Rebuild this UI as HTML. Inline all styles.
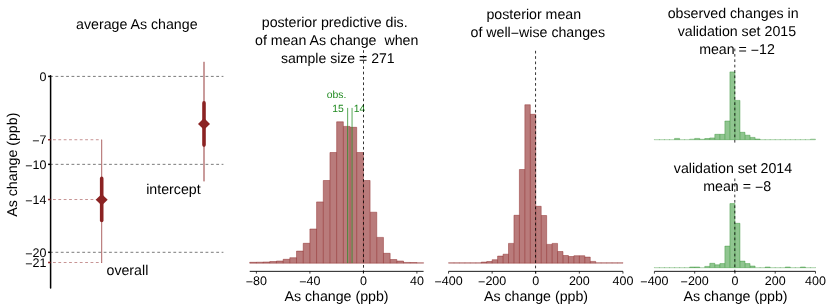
<!DOCTYPE html>
<html><head><meta charset="utf-8"><title>As change</title>
<style>html,body{margin:0;padding:0;background:#fff;}body{width:830px;height:305px;overflow:hidden;font-family:"Liberation Sans",sans-serif;}svg{display:block;text-rendering:geometricPrecision;will-change:transform;opacity:0.999;}</style>
</head><body>
<svg width="830" height="305" viewBox="0 0 830 305" font-family="'Liberation Sans', sans-serif" fill="#000">
<rect width="830" height="305" fill="#fff"/>
<text x="136.8" y="28.5" font-size="14.2" text-anchor="middle">average As change</text>
<text transform="translate(16.85,164.7) rotate(-90)" font-size="14.2" text-anchor="middle">As change (ppb)</text>
<path d="M50.6 76.40H223.4" stroke="#4d4d4d" stroke-opacity="1" stroke-width="0.75" stroke-dasharray="2.8 2.56" stroke-dashoffset="0.51" fill="none"/>
<path d="M50.6 164.35H223.4" stroke="#4d4d4d" stroke-opacity="1" stroke-width="0.75" stroke-dasharray="2.8 2.56" stroke-dashoffset="0.51" fill="none"/>
<path d="M50.6 252.30H223.4" stroke="#4d4d4d" stroke-opacity="1" stroke-width="0.75" stroke-dasharray="2.8 2.56" stroke-dashoffset="0.51" fill="none"/>
<path d="M50.6 139.72H101.7" stroke="#8B2323" stroke-opacity="0.65" stroke-width="0.75" stroke-dasharray="2.8 2.56" stroke-dashoffset="2.96" fill="none"/>
<path d="M50.6 199.53H101.7" stroke="#8B2323" stroke-opacity="0.65" stroke-width="0.75" stroke-dasharray="2.8 2.56" stroke-dashoffset="2.96" fill="none"/>
<path d="M50.6 262.50H101.7" stroke="#8B2323" stroke-opacity="0.65" stroke-width="0.75" stroke-dasharray="2.8 2.56" stroke-dashoffset="2.96" fill="none"/>
<path d="M50.6 75.65V288" stroke="#000" stroke-width="1.5" stroke-linecap="round" fill="none"/>
<path d="M48.1 76.40H50.6" stroke="#000" stroke-width="1.5" fill="none"/>
<text x="46.4" y="80.85" font-size="12.5" text-anchor="end">0</text>
<path d="M48.1 139.72H50.6" stroke="#8B2323" stroke-width="1.5" fill="none"/>
<text x="46.4" y="144.17" font-size="12.5" text-anchor="end"><tspan dy="1.19">−</tspan><tspan dy="-1.19">7</tspan></text>
<path d="M48.1 164.35H50.6" stroke="#000" stroke-width="1.5" fill="none"/>
<text x="46.4" y="168.80" font-size="12.5" text-anchor="end"><tspan dy="1.19">−</tspan><tspan dy="-1.19">10</tspan></text>
<path d="M48.1 199.53H50.6" stroke="#8B2323" stroke-width="1.5" fill="none"/>
<text x="46.4" y="203.98" font-size="12.5" text-anchor="end"><tspan dy="1.19">−</tspan><tspan dy="-1.19">14</tspan></text>
<path d="M48.1 252.30H50.6" stroke="#000" stroke-width="1.5" fill="none"/>
<text x="46.4" y="256.75" font-size="12.5" text-anchor="end"><tspan dy="1.19">−</tspan><tspan dy="-1.19">20</tspan></text>
<path d="M48.1 262.50H50.6" stroke="#8B2323" stroke-width="1.5" fill="none"/>
<text x="46.4" y="266.95" font-size="12.5" text-anchor="end"><tspan dy="1.19">−</tspan><tspan dy="-1.19">21</tspan></text>
<path d="M101.7 139.72V263" stroke="#8B2323" stroke-opacity="0.7" stroke-width="1" fill="none"/>
<path d="M101.7 178.4V220.4" stroke="#8B2323" stroke-width="3.6" stroke-linecap="round" fill="none"/>
<path d="M95.7 199.7L101.7 193.9L107.7 199.7L101.7 205.5Z" fill="#8B2323"/>
<path d="M204 61.8V181.4" stroke="#8B2323" stroke-opacity="0.9" stroke-width="1" fill="none"/>
<path d="M204 102.9V145.1" stroke="#8B2323" stroke-width="3.6" stroke-linecap="round" fill="none"/>
<path d="M198 123.9L204 118.1L210 123.9L204 129.7Z" fill="#8B2323"/>
<text x="146.2" y="194.1" font-size="14.2">intercept</text>
<text x="106.5" y="275" font-size="14.2">overall</text>
<text x="334.7" y="26.9" font-size="14.2" text-anchor="middle">posterior predictive dis.</text>
<text x="336.7" y="44.5" font-size="14.2" text-anchor="middle" style="white-space:pre">of mean As change  when</text>
<text x="337.8" y="62.6" font-size="14.05" text-anchor="middle">sample size = 271</text>
<path d="M249.71 262.30H256.40V263.20H249.71zM256.40 262.20H263.09V263.20H256.40zM263.09 262.00H269.77V263.20H263.09zM269.77 261.50H276.46V263.20H269.77zM276.46 261.00H283.15V263.20H276.46zM283.15 259.30H289.84V263.20H283.15zM289.84 257.70H296.52V263.20H289.84zM296.52 251.10H303.21V263.20H296.52zM303.21 243.30H309.90V263.20H303.21zM309.90 229.00H316.59V263.20H309.90zM316.59 201.90H323.27V263.20H316.59zM323.27 180.50H329.96V263.20H323.27zM329.96 152.50H336.65V263.20H329.96zM336.65 121.80H343.34V263.20H336.65zM343.34 126.40H350.02V263.20H343.34zM350.02 127.30H356.71V263.20H350.02zM356.71 152.50H363.40V263.20H356.71zM363.40 180.50H370.09V263.20H363.40zM370.09 212.20H376.77V263.20H370.09zM376.77 237.40H383.46V263.20H376.77zM383.46 253.30H390.15V263.20H383.46zM390.15 259.50H396.84V263.20H390.15zM396.84 261.00H403.52V263.20H396.84zM403.52 262.45H410.21V263.20H403.52zM410.21 262.50H416.90V263.20H410.21z" fill="#8B2323" fill-opacity="0.6" stroke="none"/><path d="M249.71 263.20H423.59M249.71 263.20V262.30M256.40 263.20V262.20M263.09 263.20V262.00M269.77 263.20V261.50M276.46 263.20V261.00M283.15 263.20V259.30M289.84 263.20V257.70M296.52 263.20V251.10M303.21 263.20V243.30M309.90 263.20V229.00M316.59 263.20V201.90M323.27 263.20V180.50M329.96 263.20V152.50M336.65 263.20V121.80M343.34 263.20V121.80M350.02 263.20V126.40M356.71 263.20V127.30M363.40 263.20V152.50M370.09 263.20V180.50M376.77 263.20V212.20M383.46 263.20V237.40M390.15 263.20V253.30M396.84 263.20V259.50M403.52 263.20V261.00M410.21 263.20V262.45M416.90 263.20V262.50M423.59 263.20V262.70M249.71 262.30H256.40M256.40 262.20H263.09M263.09 262.00H269.77M269.77 261.50H276.46M276.46 261.00H283.15M283.15 259.30H289.84M289.84 257.70H296.52M296.52 251.10H303.21M303.21 243.30H309.90M309.90 229.00H316.59M316.59 201.90H323.27M323.27 180.50H329.96M329.96 152.50H336.65M336.65 121.80H343.34M343.34 126.40H350.02M350.02 127.30H356.71M356.71 152.50H363.40M363.40 180.50H370.09M370.09 212.20H376.77M376.77 237.40H383.46M383.46 253.30H390.15M390.15 259.50H396.84M396.84 261.00H403.52M403.52 262.45H410.21M410.21 262.50H416.90M416.90 262.70H423.59" fill="none" stroke="#8B2323" stroke-opacity="0.6" stroke-width="0.75"/>
<path d="M347.65 107.9V263.1" stroke="#228B22" stroke-width="0.75" fill="none"/>
<path d="M352.05 107.9V263.1" stroke="#228B22" stroke-width="0.75" fill="none"/>
<text x="336.5" y="97.7" font-size="10.4" fill="#228B22" text-anchor="middle">obs.</text>
<text x="338" y="111.5" font-size="10.4" fill="#228B22" text-anchor="middle">15</text>
<text x="359.6" y="111.5" font-size="10.4" fill="#228B22" text-anchor="middle">14</text>
<path d="M363.5 49.9V273.5" stroke="#000" stroke-width="0.8" stroke-dasharray="2.7 2.67" stroke-dashoffset="5.07" fill="none"/>
<path d="M249.71 271.35H423.59" stroke="#000" stroke-width="0.9" fill="none"/><path d="M256.40 271.35v2.25" stroke="#000" stroke-width="0.75" fill="none"/><path d="M309.90 271.35v2.25" stroke="#000" stroke-width="0.75" fill="none"/><path d="M363.40 271.35v2.25" stroke="#000" stroke-width="0.75" fill="none"/><path d="M416.90 271.35v2.25" stroke="#000" stroke-width="0.75" fill="none"/><text x="256.40" y="284.6" font-size="12.5" text-anchor="middle"><tspan dy="1.19">−</tspan><tspan dy="-1.19">80</tspan></text><text x="309.90" y="284.6" font-size="12.5" text-anchor="middle"><tspan dy="1.19">−</tspan><tspan dy="-1.19">40</tspan></text><text x="363.40" y="284.6" font-size="12.5" text-anchor="middle">0</text><text x="416.90" y="284.6" font-size="12.5" text-anchor="middle">40</text>
<text x="336.5" y="301.1" font-size="14.2" text-anchor="middle">As change (ppb)</text>
<text x="533.8" y="19.3" font-size="14.2" text-anchor="middle">posterior mean</text>
<text x="537.8" y="36.7" font-size="14.2" text-anchor="middle">of well<tspan dy="1.35">−</tspan><tspan dy="-1.35">wise changes</tspan></text>
<path d="M481.25 262.10H486.70V263.20H481.25zM486.70 261.50H492.15V263.20H486.70zM492.15 259.70H497.60V263.20H492.15zM497.60 256.10H503.05V263.20H497.60zM503.05 254.20H508.50V263.20H503.05zM508.50 243.40H513.95V263.20H508.50zM513.95 215.30H519.40V263.20H513.95zM519.40 169.50H524.85V263.20H519.40zM524.85 104.75H530.30V263.20H524.85zM530.30 114.30H535.75V263.20H530.30zM535.75 206.30H541.20V263.20H535.75zM541.20 215.50H546.65V263.20H541.20zM546.65 244.40H552.10V263.20H546.65zM552.10 243.40H557.55V263.20H552.10zM557.55 251.50H563.00V263.20H557.55zM563.00 255.50H568.45V263.20H563.00zM568.45 256.50H573.90V263.20H568.45zM573.90 255.70H579.35V263.20H573.90zM579.35 255.70H584.80V263.20H579.35zM584.80 257.10H590.25V263.20H584.80zM590.25 261.40H595.70V263.20H590.25z" fill="#8B2323" fill-opacity="0.6" stroke="none"/><path d="M448.55 263.20H622.95M448.55 263.20V262.70M454.00 263.20V262.70M459.45 263.20V262.70M464.90 263.20V262.70M470.35 263.20V262.70M475.80 263.20V262.70M481.25 263.20V262.10M486.70 263.20V261.50M492.15 263.20V259.70M497.60 263.20V256.10M503.05 263.20V254.20M508.50 263.20V243.40M513.95 263.20V215.30M519.40 263.20V169.50M524.85 263.20V104.75M530.30 263.20V104.75M535.75 263.20V114.30M541.20 263.20V206.30M546.65 263.20V215.50M552.10 263.20V243.40M557.55 263.20V243.40M563.00 263.20V251.50M568.45 263.20V255.50M573.90 263.20V255.70M579.35 263.20V255.70M584.80 263.20V255.70M590.25 263.20V257.10M595.70 263.20V261.40M601.15 263.20V262.70M606.60 263.20V262.70M612.05 263.20V262.70M617.50 263.20V262.70M622.95 263.20V262.70M448.55 262.70H454.00M454.00 262.70H459.45M459.45 262.70H464.90M464.90 262.70H470.35M470.35 262.70H475.80M475.80 262.70H481.25M481.25 262.10H486.70M486.70 261.50H492.15M492.15 259.70H497.60M497.60 256.10H503.05M503.05 254.20H508.50M508.50 243.40H513.95M513.95 215.30H519.40M519.40 169.50H524.85M524.85 104.75H530.30M530.30 114.30H535.75M535.75 206.30H541.20M541.20 215.50H546.65M546.65 244.40H552.10M552.10 243.40H557.55M557.55 251.50H563.00M563.00 255.50H568.45M568.45 256.50H573.90M573.90 255.70H579.35M579.35 255.70H584.80M584.80 257.10H590.25M590.25 261.40H595.70M595.70 262.70H601.15M601.15 262.70H606.60M606.60 262.70H612.05M612.05 262.70H617.50M617.50 262.70H622.95" fill="none" stroke="#8B2323" stroke-opacity="0.6" stroke-width="0.75"/>
<path d="M535.55 50.5V273.5" stroke="#000" stroke-width="0.8" stroke-dasharray="2.7 2.67" stroke-dashoffset="5.07" fill="none"/>
<path d="M448.55 271.35H622.95" stroke="#000" stroke-width="0.9" fill="none"/><path d="M448.55 271.35v2.25" stroke="#000" stroke-width="0.75" fill="none"/><path d="M492.15 271.35v2.25" stroke="#000" stroke-width="0.75" fill="none"/><path d="M535.75 271.35v2.25" stroke="#000" stroke-width="0.75" fill="none"/><path d="M579.35 271.35v2.25" stroke="#000" stroke-width="0.75" fill="none"/><path d="M622.95 271.35v2.25" stroke="#000" stroke-width="0.75" fill="none"/><text x="448.55" y="284.6" font-size="12.5" text-anchor="middle"><tspan dy="1.19">−</tspan><tspan dy="-1.19">400</tspan></text><text x="492.15" y="284.6" font-size="12.5" text-anchor="middle"><tspan dy="1.19">−</tspan><tspan dy="-1.19">200</tspan></text><text x="535.75" y="284.6" font-size="12.5" text-anchor="middle">0</text><text x="579.35" y="284.6" font-size="12.5" text-anchor="middle">200</text><text x="622.95" y="284.6" font-size="12.5" text-anchor="middle">400</text>
<text x="536" y="301.1" font-size="14.2" text-anchor="middle">As change (ppb)</text>
<text x="733.2" y="18.4" font-size="14.2" text-anchor="middle">observed changes in</text>
<text x="736.9" y="35.9" font-size="14.2" text-anchor="middle">validation set 2015</text>
<text x="737" y="54" font-size="14.2" text-anchor="middle">mean = <tspan dy="1.35">−</tspan><tspan dy="-1.35">12</tspan></text>
<path d="M674.55 138.40H679.59V139.70H674.55zM694.69 138.40H699.72V139.70H694.69zM704.75 138.50H709.79V139.70H704.75zM709.79 137.90H714.82V139.70H709.79zM714.82 134.30H719.85V139.70H714.82zM719.85 134.30H724.88V139.70H719.85zM724.88 121.00H729.92V139.70H724.88zM729.92 71.90H734.95V139.70H729.92zM734.95 100.40H739.98V139.70H734.95zM739.98 132.30H745.02V139.70H739.98zM745.02 135.20H750.05V139.70H745.02zM750.05 137.40H755.08V139.70H750.05zM755.08 139.00H760.12V139.70H755.08z" fill="#228B22" fill-opacity="0.5" stroke="none"/><path d="M654.42 139.70H815.48M654.42 139.32v0.75M659.46 139.32v0.75M664.49 139.32v0.75M669.52 139.32v0.75M674.55 139.70V138.40M679.59 139.70V138.40M684.62 139.32v0.75M689.65 139.70V139.20M694.69 139.70V138.40M699.72 139.70V138.40M704.75 139.70V138.50M709.79 139.70V137.90M714.82 139.70V134.30M719.85 139.70V134.30M724.88 139.70V121.00M729.92 139.70V71.90M734.95 139.70V71.90M739.98 139.70V100.40M745.02 139.70V132.30M750.05 139.70V135.20M755.08 139.70V137.40M760.12 139.70V139.00M765.15 139.32v0.75M770.18 139.32v0.75M775.21 139.32v0.75M780.25 139.32v0.75M785.28 139.32v0.75M790.31 139.32v0.75M795.35 139.32v0.75M800.38 139.32v0.75M805.41 139.32v0.75M810.45 139.70V139.20M815.48 139.70V139.20M674.55 138.40H679.59M689.65 139.20H694.69M694.69 138.40H699.72M699.72 139.30H704.75M704.75 138.50H709.79M709.79 137.90H714.82M714.82 134.30H719.85M719.85 134.30H724.88M724.88 121.00H729.92M729.92 71.90H734.95M734.95 100.40H739.98M739.98 132.30H745.02M745.02 135.20H750.05M750.05 137.40H755.08M755.08 139.00H760.12M810.45 139.20H815.48" fill="none" stroke="#228B22" stroke-opacity="0.5" stroke-width="0.75"/>
<path d="M734.8 48.3V143.4" stroke="#000" stroke-width="0.8" stroke-dasharray="2.7 2.67" stroke-dashoffset="5.07" fill="none"/>
<text x="733" y="172.8" font-size="14.2" text-anchor="middle">validation set 2014</text>
<text x="737.2" y="190.7" font-size="14.2" text-anchor="middle">mean = <tspan dy="1.35">−</tspan><tspan dy="-1.35">8</tspan></text>
<path d="M689.65 267.00H694.69V267.70H689.65zM694.69 267.00H699.72V267.70H694.69zM704.75 266.40H709.79V267.70H704.75zM709.79 263.30H714.82V267.70H709.79zM714.82 264.80H719.85V267.70H714.82zM719.85 263.60H724.88V267.70H719.85zM724.88 246.10H729.92V267.70H724.88zM729.92 203.60H734.95V267.70H729.92zM734.95 223.30H739.98V267.70H734.95zM739.98 261.10H745.02V267.70H739.98zM745.02 263.60H750.05V267.70H745.02zM750.05 266.00H755.08V267.70H750.05zM765.15 267.00H770.18V267.70H765.15zM785.28 267.00H790.31V267.70H785.28zM800.38 267.00H805.41V267.70H800.38z" fill="#228B22" fill-opacity="0.5" stroke="none"/><path d="M654.42 267.70H815.48M654.42 267.32v0.75M659.46 267.32v0.75M664.49 267.32v0.75M669.52 267.32v0.75M674.55 267.32v0.75M679.59 267.32v0.75M684.62 267.32v0.75M689.65 267.70V267.00M694.69 267.70V267.00M699.72 267.70V267.00M704.75 267.70V266.40M709.79 267.70V263.30M714.82 267.70V263.30M719.85 267.70V263.60M724.88 267.70V246.10M729.92 267.70V203.60M734.95 267.70V203.60M739.98 267.70V223.30M745.02 267.70V261.10M750.05 267.70V263.60M755.08 267.70V266.00M760.12 267.32v0.75M765.15 267.70V267.00M770.18 267.70V267.00M775.21 267.32v0.75M780.25 267.32v0.75M785.28 267.70V267.00M790.31 267.70V267.00M795.35 267.32v0.75M800.38 267.70V267.00M805.41 267.70V267.00M810.45 267.32v0.75M815.48 267.32v0.75M689.65 267.00H694.69M694.69 267.00H699.72M704.75 266.40H709.79M709.79 263.30H714.82M714.82 264.80H719.85M719.85 263.60H724.88M724.88 246.10H729.92M729.92 203.60H734.95M734.95 223.30H739.98M739.98 261.10H745.02M745.02 263.60H750.05M750.05 266.00H755.08M765.15 267.00H770.18M785.28 267.00H790.31M800.38 267.00H805.41" fill="none" stroke="#228B22" stroke-opacity="0.5" stroke-width="0.75"/>
<path d="M734.8 178.2V273.5" stroke="#000" stroke-width="0.8" stroke-dasharray="2.7 2.67" stroke-dashoffset="5.07" fill="none"/>
<path d="M654.42 271.35H815.48" stroke="#000" stroke-width="0.9" fill="none"/><path d="M654.42 271.35v2.25" stroke="#000" stroke-width="0.75" fill="none"/><path d="M694.69 271.35v2.25" stroke="#000" stroke-width="0.75" fill="none"/><path d="M734.95 271.35v2.25" stroke="#000" stroke-width="0.75" fill="none"/><path d="M775.21 271.35v2.25" stroke="#000" stroke-width="0.75" fill="none"/><path d="M815.48 271.35v2.25" stroke="#000" stroke-width="0.75" fill="none"/><text x="654.42" y="284.6" font-size="12.5" text-anchor="middle"><tspan dy="1.19">−</tspan><tspan dy="-1.19">400</tspan></text><text x="694.69" y="284.6" font-size="12.5" text-anchor="middle"><tspan dy="1.19">−</tspan><tspan dy="-1.19">200</tspan></text><text x="734.95" y="284.6" font-size="12.5" text-anchor="middle">0</text><text x="775.21" y="284.6" font-size="12.5" text-anchor="middle">200</text><text x="815.48" y="284.6" font-size="12.5" text-anchor="middle">400</text>
<text x="735.5" y="301.1" font-size="14.2" text-anchor="middle">As change (ppb)</text>
</svg>
</body></html>
